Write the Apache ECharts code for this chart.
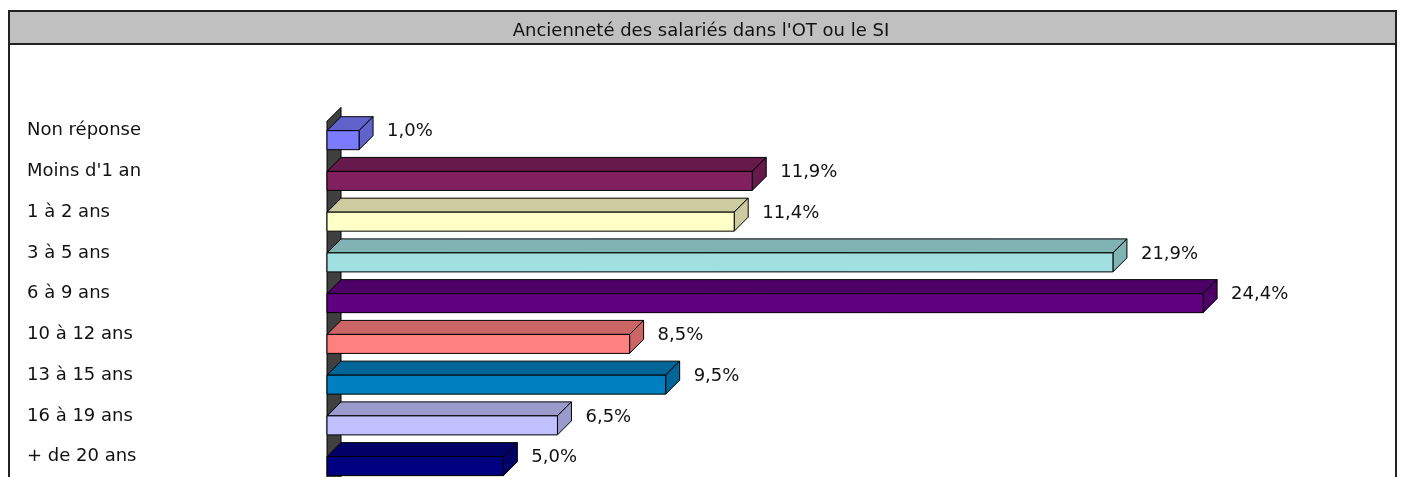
<!DOCTYPE html>
<html>
<head>
<meta charset="utf-8">
<script src="https://cdn.jsdelivr.net/npm/echarts@6/dist/echarts.min.js"></script>
<style>
  html, body { margin: 0; padding: 0; background: #fff; }
  #chart { width: 1402px; height: 477px; }
</style>
</head>
<body>
<div id="chart"></div>
<script>
// données
const titre = "Ancienneté des salariés dans l'OT ou le SI"
const categories = ['Non réponse', "Moins d'1 an", '1 à 2 ans', '3 à 5 ans', '6 à 9 ans', '10 à 12 ans', '13 à 15 ans', '16 à 19 ans', '+ de 20 ans']
const valeurs = [1.0, 11.9, 11.4, 21.9, 24.4, 8.5, 9.5, 6.5, 5.0]

// couleurs des faces avant (palette Excel)
const couleurs = ['#7b7bff', '#80205f', '#ffffc8', '#a0e0e0', '#600080', '#ff8080', '#0080c0', '#c0c0ff', '#000080']

const FONT = 'DejaVu Sans'
const PROF = 14 // profondeur 3D

// faces du dessus / côté : 80% de la couleur
function ombre(c) {
  const p = echarts.color.parse(c)
  return 'rgb(' + Math.round(p[0] * 0.8) + ',' + Math.round(p[1] * 0.8) + ',' + Math.round(p[2] * 0.8) + ')'
}

const chart = echarts.init(document.getElementById('chart'))

// barre 3D : face avant + dessus + côté
function renderBar(params, api) {
  const idx = api.value(0)
  const v = api.value(1)
  const base = api.coord([0, idx])
  const fin = api.coord([v, idx])
  const x0 = base[0] + 4
  const x1 = fin[0]
  const c = base[1]
  const yf = c
  const yb = c + 19
  const col = couleurs[idx]
  const sh = ombre(col)
  const bord = { stroke: '#000', lineWidth: 1 }
  return {
    type: 'group',
    children: [
      {
        type: 'polygon',
        shape: { points: [[x0, yf], [x0 + PROF, yf - PROF], [x1 + PROF, yf - PROF], [x1, yf]] },
        style: Object.assign({ fill: sh }, bord)
      },
      {
        type: 'polygon',
        shape: { points: [[x1, yf], [x1 + PROF, yf - PROF], [x1 + PROF, yb - PROF], [x1, yb]] },
        style: Object.assign({ fill: sh }, bord)
      },
      {
        type: 'rect',
        shape: { x: x0, y: yf, width: x1 - x0, height: yb - yf },
        style: Object.assign({ fill: col }, bord)
      },
      {
        type: 'text',
        x: x1 + PROF + 14,
        y: c + 1,
        style: {
          text: v.toFixed(1).replace('.', ',') + '%',
          fill: '#111',
          font: '18px "' + FONT + '"',
          align: 'left',
          verticalAlign: 'middle'
        }
      }
    ]
  }
}

// paroi sombre à gauche
function renderWall(params, api) {
  const cs = params.coordSys
  const x0 = api.coord([0, 0])[0] + 4
  const top = cs.y
  const bottom = cs.y + cs.height
  return {
    type: 'polygon',
    shape: { points: [[x0, top + 11], [x0 + PROF, top - 3], [x0 + PROF, bottom], [x0, bottom + PROF]] },
    style: { fill: '#404040', stroke: '#000', lineWidth: 1 }
  }
}

const option = {
  animation: false,
  backgroundColor: '#fff',
  title: {
    text: titre,
    left: 'center',
    top: 17,
    textStyle: { fontFamily: FONT, fontSize: 18, fontWeight: 'normal', color: '#111' }
  },
  graphic: [
    {
      type: 'rect',
      z: -10,
      shape: { x: 9, y: 11, width: 1387, height: 33 },
      style: { fill: '#c0c0c0', stroke: '#222', lineWidth: 2 }
    },
    {
      type: 'rect',
      z: -10,
      shape: { x: 9, y: 11, width: 1387, height: 520 },
      style: { fill: 'none', stroke: '#222', lineWidth: 2 }
    }
  ],
  grid: {
    left: 323,
    top: 110.3,
    width: 901.75,
    height: 372
  },
  xAxis: {
    type: 'value',
    min: 0,
    max: 25,
    show: false
  },
  yAxis: {
    type: 'category',
    inverse: true,
    data: categories,
    axisLine: { show: false },
    axisTick: { show: false },
    splitLine: { show: false },
    axisLabel: {
      align: 'left',
      margin: 296,
      fontFamily: FONT,
      fontSize: 18,
      color: '#111',
      padding: [3, 0, 0, 0]
    }
  },
  series: [
    {
      type: 'custom',
      renderItem: renderWall,
      data: [[0]],
      encode: { x: 0 },
      silent: true
    },
    {
      type: 'custom',
      renderItem: renderBar,
      encode: { x: 1, y: 0 },
      data: valeurs.map((v, i) => [i, v])
    }
  ]
}

chart.setOption(option)
</script>
</body>
</html>
